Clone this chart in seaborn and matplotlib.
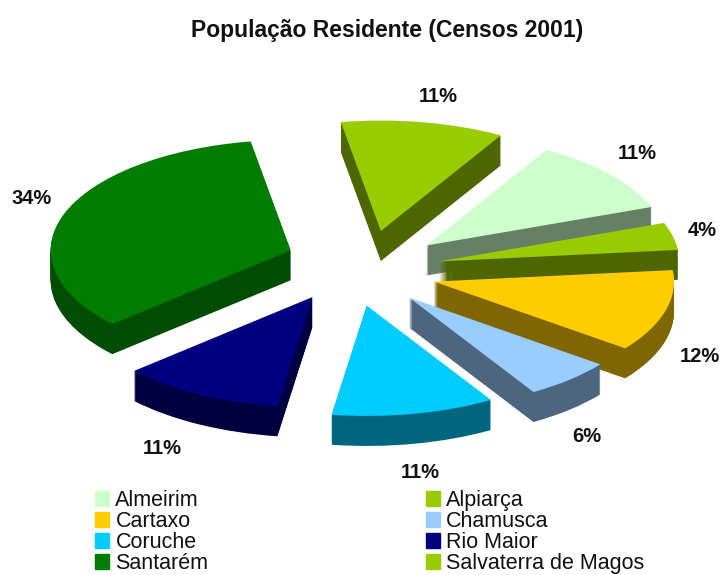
"""População residente por concelho: pie 3D explodido, legenda em duas colunas."""

import matplotlib

matplotlib.use("Agg")

import matplotlib.pyplot as plt
import numpy as np
import seaborn as sns
from matplotlib.patches import Patch

sns.set_theme(style="white")
plt.rcParams["font.family"] = ["Liberation Sans", "DejaVu Sans"]

CONCELHOS = ["Almeirim", "Alpiarça", "Cartaxo", "Chamusca",
             "Coruche", "Rio Maior", "Santarém", "Salvaterra de Magos"]
PERCENTAGENS = [11, 4, 12, 6, 11, 11, 34, 11]
ROTULOS = ["11%", "4%", "12%", "6%", "11%", "11%", "34%", "11%"]
CORES_TOPO = ["#CCFFCC", "#99CC00", "#FFCC00", "#99CCFF",
              "#00CCFF", "#000080", "#007C00", "#99CC00"]
CORES_LADO = ["#668066", "#4D6600", "#806600", "#4D6680",
              "#006680", "#000040", "#004C00", "#4D6600"]

# layout em pixels da imagem; o y do pie fica esticado por ACHATAMENTO
LARGURA, ALTURA = 722, 575
ACHATAMENTO = 0.46
RAIO = 240
CENTRO_PX = (370, 269)
PROFUNDIDADE = 30
# afastamento radial de cada fatia, em fração do raio
EXPLODE = [0.33, 0.30, 0.29, 0.30, 0.31, 0.34, 0.35, 0.35]
# a perspetiva do original não é só radial: acerto fino (dx, dy) em pixels
AJUSTE_PX = [(-4, 0), (-1, 0), (-3, 4), (-9, 4), (-18, 3), (-19, -5), (0, -6), (-4, 0)]
POS_ROTULOS = [(637, 154), (702, 231), (700, 356), (587, 436),
               (420, 472), (162, 448), (32, 199), (438, 96)]


def desenhar_camada(eje, dy, cores, base):
    """Uma cópia do pie deslocada dy pixels para baixo."""
    centro = (CENTRO_PX[0], (ALTURA - CENTRO_PX[1] - dy) / ACHATAMENTO)
    fatias, _ = eje.pie(PERCENTAGENS, explode=[e * RAIO for e in EXPLODE], colors=cores,
                        radius=RAIO, center=centro, startangle=60, counterclock=False,
                        wedgeprops={"linewidth": 0})
    for i, fatia in enumerate(fatias):
        x, y = fatia.center
        fatia.set_center((x + AJUSTE_PX[i][0], y - AJUSTE_PX[i][1] / ACHATAMENTO))
        fatia.set_zorder(10 * i + base)


fig = plt.figure(figsize=(LARGURA / 100, ALTURA / 100), dpi=100)
eje = fig.add_axes([0, 0, 1, 1])

lado = sns.color_palette(CORES_LADO)
for dy in np.arange(PROFUNDIDADE, 0, -1):
    desenhar_camada(eje, dy, lado, 1)
desenhar_camada(eje, 0, sns.color_palette(CORES_TOPO), 2)

eje.set_aspect("auto")
eje.set_xlim(0, LARGURA)
eje.set_ylim(0, ALTURA / ACHATAMENTO)
eje.axis("off")

for texto, (x, y) in zip(ROTULOS, POS_ROTULOS):
    fig.text(x / LARGURA, 1 - y / ALTURA, texto, ha="center", va="center",
             fontsize=14.5, color="#111111", weight="bold", zorder=200)

fig.text(387 / LARGURA, 1 - 31 / ALTURA, "População Residente (Censos 2001)",
         ha="center", va="center", fontsize=16.5, weight="bold", color="#111111")

# a legenda preenche por coluna: esquerda com os índices pares, direita com os ímpares
ordem = list(range(0, 8, 2)) + list(range(1, 8, 2))
marcas = [Patch(color=CORES_TOPO[i], label=CONCELHOS[i]) for i in ordem]
fig.legend(handles=marcas, ncols=2, loc="lower left",
           bbox_to_anchor=(95 / LARGURA, 1 / ALTURA), frameon=False, fontsize=15.5,
           labelspacing=0, columnspacing=10.1, handlelength=0.65, handleheight=0.65,
           handletextpad=0.3, borderpad=0, borderaxespad=0, labelcolor="#111111")

fig.savefig("out.png", dpi=100)
